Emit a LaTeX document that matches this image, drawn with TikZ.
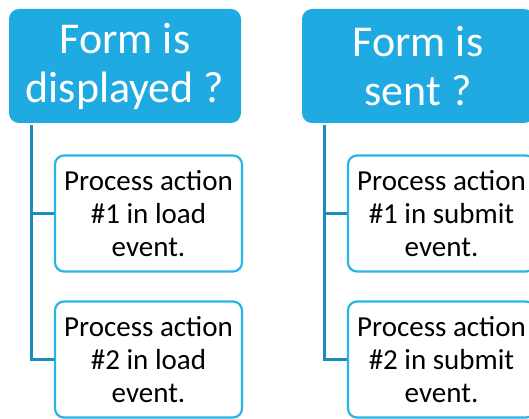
\documentclass[tikz,border=0pt]{standalone}
\usepackage{fontspec}
\setmainfont{Carlito}
\definecolor{headfill}{RGB}{31,171,226}
\definecolor{childline}{RGB}{41,180,232}
\definecolor{connline}{RGB}{27,140,192}
\begin{document}
\begin{tikzpicture}[x=1pt,y=-1pt,
  headbox/.style={rectangle, rounded corners=10pt, fill=headfill, draw=none,
    minimum width=232pt, minimum height=114pt, inner sep=0pt,
    text=white, align=center,
    font=\fontsize{44}{49}\selectfont},
  childbox/.style={rectangle, rounded corners=9pt, fill=white, draw=childline,
    line width=2.2pt, minimum width=187pt, minimum height=116pt, inner sep=0pt,
    text=black, align=center,
    font=\fontsize{29}{33}\selectfont},
  conn/.style={draw=connline, line width=3pt}]
\useasboundingbox (0,0) rectangle (529,419);
\clip (0,0) rectangle (529,419);
% left column
\node[headbox] (lh) at (125,66) {Form is\\displayed ?};
\node[childbox] (lc1) at (148.5,213.5) {Process action\\\#1 in load\\event.};
\node[childbox] (lc2) at (148.5,359.5) {Process action\\\#2 in load\\event.};
\coordinate (lt) at (31,125);
\draw[conn] (lt) |- (lc2.west);
\draw[conn] (lc1.west -| lt) -- (lc1.west);
% right column
\node[headbox] (rh) at (418,66) {Form is\\sent ?};
\node[childbox] (rc1) at (441.5,213.5) {Process action\\\#1 in submit\\event.};
\node[childbox] (rc2) at (441.5,359.5) {Process action\\\#2 in submit\\event.};
\coordinate (rt) at (324,125);
\draw[conn] (rt) |- (rc2.west);
\draw[conn] (rc1.west -| rt) -- (rc1.west);
\end{tikzpicture}
\end{document}
